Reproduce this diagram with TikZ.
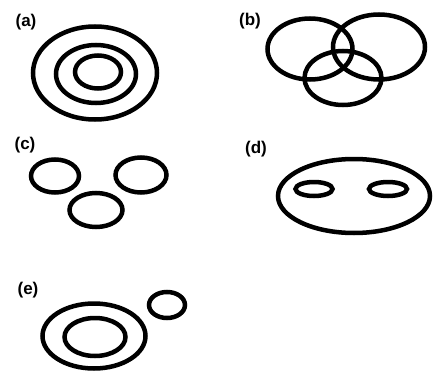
\documentclass[tikz,border=0pt]{standalone}
\usepackage{fontspec}
\setmainfont{Liberation Sans}
\usepackage{tikz}
\usetikzlibrary{positioning}
\tikzset{
    ring_style/.style={
        draw=black,           % 边框颜色
        line width=4.5pt      % 线条加粗
    },
    label_style/.style={
        inner sep=0pt,
        font=\fontsize{17}{19}\selectfont\bfseries  % 标签字体
    }
}
\begin{document}
\begin{tikzpicture}[x=1pt, y=-1pt]
            \useasboundingbox (0,0) rectangle (434,372);
            % 1. 标签
            \node[label_style] (la) at (26,22) {(a)};
            \node[label_style] (lb) at (250,21) {(b)};
            \node[label_style] (lc) at (25,145) {(c)};
            \node[label_style] (ld) at (256,149) {(d)};
            \node[label_style] (le) at (28,290) {(e)};

            % 2. (a) 同心椭圆
            \draw[ring_style] (95,73) ellipse [x radius=62, y radius=46.5];
            \draw[ring_style] (96,74) ellipse [x radius=40, y radius=29];
            \draw[ring_style] (98,72) ellipse [x radius=23, y radius=16.5];

            % 3. (b) 三个相交椭圆
            \draw[ring_style] (310,49) ellipse [x radius=42.5, y radius=30.5];
            \draw[ring_style] (379,47) ellipse [x radius=46, y radius=32.5];
            \draw[ring_style] (343,78) ellipse [x radius=38.5, y radius=27];

            % 4. (c) 三个分离椭圆
            \draw[ring_style] (55,176) ellipse [x radius=24, y radius=16.5];
            \draw[ring_style] (141,175) ellipse [x radius=25.5, y radius=17.5];
            \draw[ring_style] (96,210) ellipse [x radius=26.5, y radius=17];

            % 5. (d) 大椭圆内含两个小椭圆
            \draw[ring_style] (354,196) ellipse [x radius=76, y radius=37];
            \draw[ring_style] (314,189) ellipse [x radius=18.5, y radius=7];
            \draw[ring_style] (388,189) ellipse [x radius=19, y radius=7];

            % 6. (e) 嵌套椭圆加一个外部小椭圆
            \draw[ring_style] (94,336) ellipse [x radius=51.5, y radius=32.5];
            \draw[ring_style] (95,337) ellipse [x radius=30.5, y radius=19];
            \draw[ring_style] (167,305) ellipse [x radius=18, y radius=13];
        \end{tikzpicture}
\end{document}
